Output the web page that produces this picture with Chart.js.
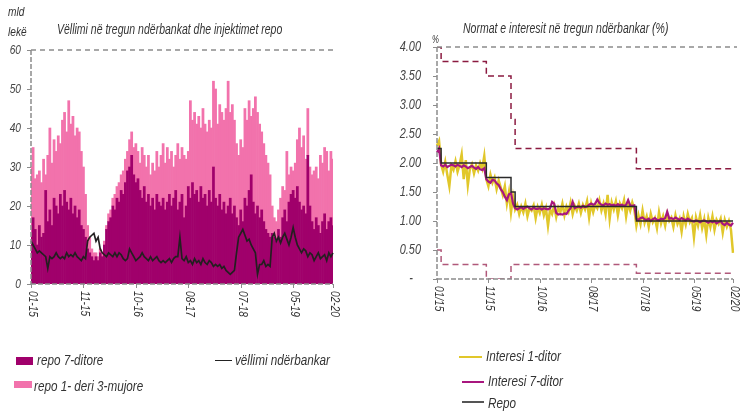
<!DOCTYPE html>
<html><head><meta charset="utf-8">
<script src="https://cdn.jsdelivr.net/npm/chart.js@4.4.1/dist/chart.umd.min.js"></script>
<style>
html,body{margin:0;padding:0;background:#fff;}
#wrap{position:relative;width:740px;height:413px;overflow:hidden;font-family:'Liberation Sans',Arial,sans-serif;font-style:italic;color:#333;}
canvas{position:absolute;top:0;}
.t{position:absolute;white-space:nowrap;line-height:1;transform:scaleX(0.78);transform-origin:0 0;}
.tt{position:absolute;white-space:nowrap;line-height:1;transform:scaleX(0.7);transform-origin:0 0;}
.sw{position:absolute;}
</style></head><body>
<div id="wrap">
<canvas id="c1" width="370" height="413" style="left:0"></canvas>
<canvas id="c2" width="370" height="413" style="left:370px"></canvas>
<div class="t" style="left:8px;top:5px;font-size:13px">mld</div>
<div class="t" style="left:8px;top:25px;font-size:13px">lekë</div>
<div class="tt" style="left:57px;top:21px;font-size:15px">Vëllimi në tregun ndërbankat dhe injektimet repo</div>
<div class="tt" style="left:463px;top:20px;font-size:15px">Normat e interesit në tregun ndërbankar (%)</div>
<div class="t" style="left:432px;top:35px;font-size:10px">%</div>

<div class="sw" style="left:16px;top:357px;width:17px;height:8px;background:#A0006B"></div>
<div class="t" style="left:37px;top:352px;font-size:15px">repo 7-ditore</div>
<div class="sw" style="left:14px;top:381px;width:18px;height:7px;background:#F272AC"></div>
<div class="t" style="left:34px;top:378px;font-size:15px">repo 1- deri 3-mujore</div>
<div class="sw" style="left:215px;top:360px;width:17px;height:1px;background:#222"></div>
<div class="t" style="left:235px;top:352px;font-size:15px">vëllimi ndërbankar</div>

<div class="sw" style="left:459px;top:356px;width:23px;height:2px;background:#E1C72A"></div>
<div class="t" style="left:486px;top:348px;font-size:15px">Interesi 1-ditor</div>
<div class="sw" style="left:462px;top:381px;width:22px;height:2px;background:#A8167E"></div>
<div class="t" style="left:488px;top:373px;font-size:15px">Interesi 7-ditor</div>
<div class="sw" style="left:462px;top:401px;width:22px;height:1.5px;background:#555"></div>
<div class="t" style="left:488px;top:395px;font-size:15px">Repo</div>
</div>
<script>
// ---------- data ----------
const categories = Array.from({length: 145}, (_, i) => i); // observation index (Jan 2015 - Feb 2020)
const tickIndex = [0, 25, 50, 75, 100, 125, 144];
const tickLabelsLeft = ['01-15', '11-15', '10-16', '08-17', '07-18', '05-19', '02-20'];
const tickLabelsRight = ['01/15', '11/15', '10/16', '08/17', '07/18', '05/19', '02/20'];

const repo7 = [12,17,14,10,15,12,13,24,16,19, 15,22,20,18,23,20,24,21,19,22,
  18,20,17,19,15,14,12,9,8,7, 6,7,6,8,7,10,14,16,17,20,
  19,22,21,24,23,26,29,30,33,28, 26,27,24,22,25,21,23,20,22,19,
  23,21,20,22,19,21,23,20,22,24, 19,21,23,17,20,25,22,26,23,24,
  21,25,22,23,20,24,21,30,22,20, 23,19,21,18,20,22,18,20,17,15,
  19,16,22,20,24,28,21,18,20,17, 19,16,14,13,12,13,12,11,14,12,
  17,19,16,21,23,24,22,25,21,19, 20,18,33,20,16,14,17,15,13,16,
  18,14,16,17,15];
const repo1to3 = [18,18,13,18,14,14,19,4,17,21, 16,15,14,20,13,22,20,18,28,19,
  25,18,23,20,19,16,11,6,4,2, 2,1,1,1,1,1,1,2,2,2,
  4,3,5,4,6,6,5,7,6,7, 10,7,7,13,8,9,10,8,9,10,
  11,9,13,14,12,14,9,14,8,9, 17,11,12,16,12,9,25,16,21,17,
  22,15,23,18,19,18,19,22,28,21, 23,25,21,27,32,22,28,22,19,18,
  18,19,23,22,23,15,24,30,24,24, 20,20,19,18,16,7,5,5,5,10,
  8,5,18,7,7,5,9,12,19,16, 18,14,12,10,12,15,13,12,20,15,
  17,20,13,17,17];
const interbank = [11,10,9,8,8.5,8,7.5,7,4,7, 6.5,7,8,7,6.5,7,6.5,8,7,7.5,
  7,8,7,6.5,6,7,6.5,11,12,12.5, 13,11,12,9,8,7.5,7,8,7.5,7,
  8,7,8,7.5,6.5,6,6.5,9,8,7, 6,6.5,7,8,7,6.5,6,7,6,6.5,
  7,6,5.5,6,5.5,6,6.5,5.5,6.5,7, 7,12,6.5,6,7,5.5,6,5,6.5,5.5,
  6,5,6.5,5.5,5,6,5.5,4.5,5,4.5, 5,4,4.5,3.5,3,2.5,3,3.5,8,12,
  13,14,12.5,11,11.5,10,9,8,2.5,5, 5,6,4.5,5,4.5,12,13,11,12,10.5,
  12,13,11.5,10,12,14.5,12,10,9,8, 9,8.5,7,8,7.5,6,7,8,6.5,7,
  7.5,6,8,7,8];

const rate1day = [2.30,2.38,1.98,1.85,2.02,1.80,1.60,1.95,1.88,2.03,
  1.85,1.97,2.15,1.72,2.05,1.62,1.90,1.98,1.82,1.96,
  1.87,2.00,1.90,2.12,1.72,1.60,1.80,1.66,1.75,1.55,
  1.70,1.58,1.45,1.60,1.30,1.50,1.15,1.42,1.20,1.28,
  1.12,1.25,1.15,1.30,1.08,1.22,1.18,1.27,1.05,1.24,
  1.14,1.28,1.10,1.22,0.92,1.20,1.12,1.26,1.07,1.23,
  1.15,1.30,1.10,1.25,1.16,1.32,1.12,1.26,1.18,1.30,
  1.14,1.28,1.20,1.34,1.06,1.30,1.15,1.28,1.22,1.36,
  1.18,1.30,1.12,1.45,1.04,1.32,1.20,1.34,1.10,1.30,
  1.22,1.36,1.08,1.30,1.18,1.32,1.20,0.92,1.10,0.95,
  1.18,0.97,1.08,0.90,1.12,0.98,1.05,0.88,1.15,0.96,
  1.08,0.92,1.12,1.00,1.06,0.90,1.10,0.95,1.04,0.82,
  1.08,0.94,1.12,0.98,1.05,0.72,1.06,0.92,1.10,0.88,
  1.03,0.76,1.05,0.90,1.08,0.85,1.02,0.95,1.04,0.80,
  1.02,0.90,1.00,0.85,0.45];
const rate7day = [2.18,2.25,1.96,1.94,1.97,1.93,1.95,1.97,1.96,1.94,
  1.97,1.95,1.93,1.96,1.94,1.91,1.93,1.95,1.92,1.90,
  1.93,1.89,1.88,1.91,1.72,1.68,1.66,1.71,1.70,1.65,
  1.62,1.55,1.50,1.42,1.36,1.46,1.48,1.30,1.22,1.20,
  1.22,1.24,1.21,1.23,1.25,1.22,1.20,1.23,1.21,1.21,
  1.22,1.20,1.22,1.21,1.20,1.22,1.33,1.30,1.14,1.11,
  1.12,1.11,1.13,1.12,1.18,1.22,1.33,1.22,1.24,1.25,
  1.23,1.26,1.24,1.25,1.28,1.30,1.28,1.30,1.37,1.31,
  1.28,1.27,1.30,1.28,1.29,1.27,1.28,1.26,1.29,1.27,
  1.28,1.26,1.28,1.36,1.27,1.26,1.27,1.04,1.02,1.05,
  1.06,1.03,1.02,1.04,1.00,1.03,1.05,1.02,1.01,1.04,
  1.03,1.05,1.16,1.04,1.05,1.03,1.06,1.04,1.02,1.05,
  1.03,1.01,1.04,1.02,1.00,0.99,1.01,1.00,0.98,1.00,
  1.01,0.99,0.97,1.00,0.98,1.00,0.96,0.98,1.00,0.95,
  0.93,0.97,0.94,0.92,0.97];
// step series: [index where the level starts, level]
const repoRate = [[0,2.25],[2,2.00],[24,1.75],[36,1.50],[38,1.25],[97,1.00],[144,1.00]];
const corridorUpper = [[0,4.00],[2,3.75],[24,3.50],[36,2.75],[38,2.25],[97,1.90],[144,1.90]];
const corridorLower = [[0,0.50],[2,0.25],[24,0.00],[36,0.25],[97,0.10],[144,0.10]];

// ---------- rendering ----------
const FONT = "'Liberation Sans',Arial,sans-serif";
const SX = 0.78; // condensed look
const deco = {
  id: 'deco',
  afterDatasetsDraw(chart, args, o) {
    const {ctx, chartArea: a, scales: {x, y}} = chart;
    ctx.save();
    ctx.strokeStyle = '#8c8c8c';
    ctx.lineWidth = 1.5;
    ctx.setLineDash([5, 4]);
    const yt = y.getPixelForValue(y.max);
    ctx.beginPath(); ctx.moveTo(a.left, yt); ctx.lineTo(a.right + o.extend, yt); ctx.stroke();
    ctx.setLineDash([5, 2]);
    ctx.beginPath(); ctx.moveTo(a.left, a.bottom); ctx.lineTo(a.right, a.bottom); ctx.stroke();
    ctx.beginPath(); ctx.moveTo(a.left, a.top); ctx.lineTo(a.left, a.bottom); ctx.stroke();
    ctx.setLineDash([]);
    ctx.lineWidth = 1;
    ctx.fillStyle = '#444';
    ctx.font = 'italic ' + o.yfs + 'px ' + FONT;
    ctx.textBaseline = 'middle';
    y.ticks.forEach(t => {
      const py = Math.round(y.getPixelForValue(t.value)) + 0.5;
      ctx.beginPath(); ctx.moveTo(a.left - 4, py); ctx.lineTo(a.left, py); ctx.stroke();
      const lab = o.yfmt(t.value);
      ctx.save();
      ctx.translate(lab === '-' ? o.dashX : a.left - o.ypad, py);
      ctx.scale(SX, 1);
      ctx.textAlign = lab === '-' ? 'center' : 'right';
      ctx.fillText(lab, 0, 0);
      ctx.restore();
    });
    ctx.fillStyle = '#333';
    ctx.textAlign = 'left';
    ctx.font = 'italic 13px ' + FONT;
    o.idx.forEach((id, k) => {
      const px = Math.round(x.getPixelForValue(id)) + 0.5;
      ctx.beginPath(); ctx.moveTo(px, a.bottom); ctx.lineTo(px, a.bottom + 4); ctx.stroke();
      ctx.save();
      ctx.translate(px + 1, a.bottom + 7);
      ctx.rotate(Math.PI / 2);
      ctx.scale(SX, 1);
      ctx.fillText(o.labels[k], 0, 0);
      ctx.restore();
    });
    ctx.restore();
  }
};

new Chart(document.getElementById('c1'), {
  type: 'bar',
  data: {
    labels: categories,
    datasets: [
      {type: 'line', label: 'vëllimi ndërbankar', data: interbank, borderColor: '#231F20', borderWidth: 1.7, pointRadius: 0, tension: 0, order: 0},
      {label: 'repo 7-ditore', data: repo7, backgroundColor: '#A0006B', borderWidth: 0, barPercentage: 1, categoryPercentage: 1, order: 1},
      {label: 'repo 1- deri 3-mujore', data: repo1to3, backgroundColor: '#F272AC', borderWidth: 0, barPercentage: 1, categoryPercentage: 1, order: 2}
    ]
  },
  plugins: [deco],
  options: {
    responsive: false, animation: false,
    layout: {padding: {top: 50, right: 37, left: 0, bottom: 0}},
    plugins: {legend: {display: false}, tooltip: {enabled: false},
      deco: {idx: tickIndex, labels: tickLabelsLeft, extend: 0, ypad: 10, dashX: 0, yfs: 13, yfmt: v => String(v)}},
    scales: {
      x: {type: 'category', stacked: true, offset: false, grid: {display: false, drawTicks: false}, border: {display: false}, ticks: {display: false},
        afterFit: s => { s.height = 129; }},
      y: {stacked: true, min: 0, max: 60, grid: {display: false, drawTicks: false}, border: {display: false},
        ticks: {stepSize: 10, display: false},
        afterFit: s => { s.width = 31; }}
    }
  }
});

const stepPts = arr => arr.map(p => ({x: p[0], y: p[1]}));
new Chart(document.getElementById('c2'), {
  type: 'line',
  data: {
    labels: categories,
    datasets: [
      {label: 'Repo', data: stepPts(repoRate), stepped: true, borderColor: '#2a2a2a', borderWidth: 1.5, pointRadius: 0, order: 0},
      {label: 'Interesi 7-ditor', data: rate7day, borderColor: '#A8167E', borderWidth: 2.2, pointRadius: 0, tension: 0, order: 1},
      {label: 'Interesi 1-ditor', data: rate1day, borderColor: '#E1C72A', borderWidth: 2.5, pointRadius: 0, tension: 0, order: 2},
      {label: 'upper', data: stepPts(corridorUpper), stepped: true, borderColor: '#8B1A40', borderWidth: 1.5, borderDash: [6, 4], pointRadius: 0, order: 3},
      {label: 'lower', data: stepPts(corridorLower), stepped: true, borderColor: '#B0587A', borderWidth: 1.5, borderDash: [6, 4], pointRadius: 0, order: 4}
    ]
  },
  plugins: [deco],
  options: {
    responsive: false, animation: false,
    layout: {padding: {top: 47, right: 7, left: 0, bottom: 0}},
    plugins: {legend: {display: false}, tooltip: {enabled: false},
      deco: {idx: tickIndex, labels: tickLabelsRight, extend: 4, ypad: 16, dashX: 41, yfs: 14,
        yfmt: v => v === 0 ? '-' : v.toFixed(2)}},
    scales: {
      x: {type: 'category', offset: false, grid: {display: false, drawTicks: false}, border: {display: false}, ticks: {display: false},
        afterFit: s => { s.height = 134; }},
      y: {min: 0, max: 4, grid: {display: false, drawTicks: false}, border: {display: false},
        ticks: {stepSize: 0.5, display: false},
        afterFit: s => { s.width = 67; }}
    }
  }
});
</script>
</body></html>
